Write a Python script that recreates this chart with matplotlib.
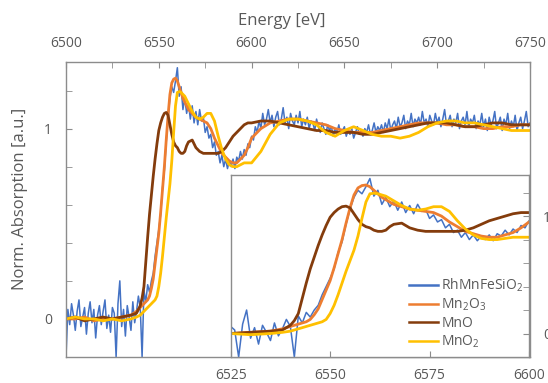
import numpy as np
import matplotlib
matplotlib.use("Agg")
import matplotlib.pyplot as plt

plt.rcParams['font.family'] = ['Open Sans', 'DejaVu Sans']
plt.rcParams['mathtext.fontset'] = 'custom'
plt.rcParams['mathtext.rm'] = 'Open Sans'
plt.rcParams['mathtext.it'] = 'Open Sans:italic'

# ---- data ----
labels = ['RhMnFeSiO$_2$', 'Mn$_2$O$_3$', 'MnO', 'MnO$_2$']
colors = ['#4472C4', '#ED7D31', '#843C0C', '#FFC000']

# sample energies, 1 eV grid
E_sample = np.arange(6500, 6751)
sample = [
    -0.20, 0.05, -0.03, 0.08, 0.02, -0.06, 0.04, 0.10, -0.04, 0.01,
    0.06, -0.08, 0.03, 0.09, -0.02, 0.05, -0.10, 0.02, 0.07, -0.03,
    0.04, 0.10, -0.05, 0.02, -0.07, 0.06, 0.03, -0.20, 0.08, 0.20,
    -0.04, 0.05, -0.09, 0.07, 0.01, -0.06, 0.09, -0.02, 0.04, 0.12,
    0.06, -0.20, 0.15, 0.09, 0.18, 0.14, 0.20, 0.24, 0.33, 0.40,
    0.47, 0.55, 0.69, 0.78, 0.93, 1.06, 1.16, 1.22, 1.19, 1.25,
    1.32, 1.17, 1.22, 1.10, 1.16, 1.08, 1.13, 1.05, 1.12, 1.03,
    1.09, 1.02, 1.10, 1.04, 1.06, 0.98, 1.01, 0.95, 0.97, 0.90,
    0.93, 0.86, 0.88, 0.82, 0.86, 0.80, 0.84, 0.79, 0.83, 0.80,
    0.84, 0.79, 0.85, 0.83, 0.88, 0.84, 0.89, 0.86, 0.92, 0.90,
    0.96, 0.94, 1.01, 0.98, 1.04, 1.00, 1.08, 1.02, 1.05, 1.10,
    1.03, 1.07, 1.01, 1.06, 1.09, 1.02, 1.05, 1.11, 1.03, 1.06,
    1.00, 1.08, 1.04, 1.02, 1.07, 1.03, 1.09, 1.01, 1.05, 1.02,
    1.06, 1.00, 1.04, 1.03, 0.99, 1.05, 1.01, 0.98, 1.03, 1.00,
    0.97, 1.02, 0.99, 1.01, 0.96, 1.00, 0.98, 1.02, 0.97, 0.99,
    1.01, 0.96, 0.99, 0.97, 1.00, 0.95, 0.98, 1.01, 0.97, 0.99,
    0.96, 1.00, 0.98, 1.02, 0.97, 0.99, 1.03, 0.98, 1.01, 0.99,
    1.02, 0.98, 1.03, 1.00, 1.05, 0.99, 1.02, 1.04, 1.00, 1.06,
    1.01, 1.03, 1.07, 1.00, 1.04, 1.02, 1.08, 1.01, 1.05, 1.03,
    1.06, 1.02, 1.09, 1.03, 1.05, 1.01, 1.07, 1.04, 1.02, 1.08,
    1.03, 1.06, 1.01, 1.05, 1.10, 1.02, 1.04, 1.07, 1.01, 1.05,
    1.03, 1.08, 1.00, 1.04, 1.06, 1.02, 1.09, 1.01, 1.05, 1.03,
    1.07, 1.00, 1.04, 1.02, 1.08, 1.01, 1.05, 0.99, 1.06, 1.02,
    1.04, 1.09, 1.00, 1.03, 1.06, 0.99, 1.05, 1.02, 1.08, 1.00,
    1.04, 1.01, 1.07, 0.99, 1.03, 1.06, 1.00, 1.04, 1.09, 1.01,
    1.03,
]

# reference energies
E_ref = np.r_[[6500, 6505, 6510, 6515, 6520, 6525, 6530, 6535, 6538],
              np.arange(6540, 6567), np.arange(6568, 6601, 2),
              np.arange(6605, 6751, 5)]

mn2o3 = [
    0.00, 0.00, 0.01, -0.01, 0.00, 0.00, 0.01, 0.02, 0.04,
    0.06, 0.07, 0.08, 0.09, 0.10, 0.12, 0.16, 0.21, 0.29, 0.37,
    0.45, 0.56, 0.68, 0.80, 0.94, 1.07, 1.18, 1.24, 1.26, 1.265,
    1.25, 1.22, 1.19, 1.16, 1.14, 1.12, 1.10,
    1.08, 1.06, 1.05, 1.04, 1.03, 1.00, 0.95, 0.91, 0.87, 0.85,
    0.83, 0.82, 0.82, 0.84, 0.86, 0.90, 0.95,
    1.00, 1.03, 1.04, 1.05, 1.05, 1.04, 1.03, 1.02, 1.00, 0.99,
    0.98, 0.98, 0.98, 0.99, 1.00, 1.01, 1.02, 1.03, 1.03, 1.03,
    1.02, 1.02, 1.01, 1.01, 1.00, 1.00, 1.01, 1.01, 1.02, 1.02,
]
mno = [
    0.00, 0.01, -0.01, 0.00, 0.01, 0.00, 0.01, 0.02, 0.03,
    0.07, 0.11, 0.17, 0.30, 0.43, 0.55, 0.65, 0.75, 0.84, 0.92,
    0.99, 1.03, 1.06, 1.08, 1.085, 1.07, 1.02, 0.97, 0.93, 0.91,
    0.90, 0.88, 0.87, 0.87, 0.88, 0.91, 0.93,
    0.94, 0.90, 0.88, 0.87, 0.87, 0.87, 0.87, 0.87, 0.88, 0.90,
    0.93, 0.96, 0.98, 1.00, 1.02, 1.03, 1.03,
    1.04, 1.04, 1.03, 1.02, 1.01, 1.00, 0.99, 0.99, 0.98, 0.98,
    0.98, 0.97, 0.97, 0.98, 0.99, 1.00, 1.01, 1.02, 1.03, 1.03,
    1.03, 1.02, 1.01, 1.01, 1.02, 1.03, 1.03, 1.02, 1.02, 1.02,
]
mno2 = [
    0.00, 0.01, 0.00, 0.00, -0.01, 0.00, -0.01, 0.00, 0.01,
    0.02, 0.03, 0.04, 0.05, 0.06, 0.07, 0.08, 0.09, 0.10, 0.12,
    0.17, 0.24, 0.33, 0.43, 0.53, 0.62, 0.71, 0.83, 0.98, 1.12,
    1.19, 1.195, 1.19, 1.18, 1.17, 1.15, 1.13,
    1.09, 1.06, 1.05, 1.06, 1.08, 1.08, 1.04, 0.96, 0.89, 0.84,
    0.81, 0.80, 0.80, 0.81, 0.82, 0.82, 0.82,
    0.88, 0.97, 1.03, 1.05, 1.05, 1.04, 1.02, 0.98, 0.96, 0.99,
    1.01, 0.99, 0.97, 0.96, 0.96, 0.95, 0.96, 0.98, 1.01, 1.03,
    1.04, 1.04, 1.03, 1.03, 1.02, 1.01, 1.00, 0.99, 0.99, 0.99,
]

xticks_main = [6500, 6550, 6600, 6650, 6700, 6750]
xticks_inset = [6525, 6550, 6575, 6600]

txt = '#595959'
edge = '#8c8c8c'

fig = plt.figure(figsize=(5.48, 3.83), dpi=100)


def draw(ax):
    series = [(E_sample, sample), (E_ref, mn2o3), (E_ref, mno), (E_ref, mno2)]
    lws = [1.1, 2.0, 2.0, 2.0]
    for (x, y), c, lab, lw in zip(series, colors, labels, lws):
        ax.plot(x, y, color=c, lw=lw, label=lab)
    ax.set_ylim(-0.2, 1.35)
    for s in ax.spines.values():
        s.set_color(edge)
        s.set_linewidth(1.0)


# main axes
ax = fig.add_axes([66/548, 1-357/383, 464/548, 295/383])
draw(ax)
ax.set_xlim(6500, 6750)
ax.xaxis.tick_top()
ax.set_xticks(xticks_main)
ax.set_xticks([6525, 6575, 6625, 6675, 6725], minor=True)
ax.set_yticks([0, 1])
ax.set_yticks([0.2, 0.4, 0.6, 0.8, 1.2], minor=True)
ax.tick_params(which='both', direction='in', length=4, color=edge,
               labelcolor=txt, labelsize=10)
ax.tick_params(axis='x', which='both', top=True, bottom=False, pad=8)
ax.tick_params(axis='y', which='both', left=True, right=False, pad=10)

fig.text(282/548, 1-21/383, 'Energy [eV]', ha='center', va='center',
         fontsize=12, color=txt)
fig.text(20/548, 1-199/383, 'Norm. Absorption [a.u.]', ha='center',
         va='center', rotation=90, fontsize=12, color=txt)

# inset
axin = fig.add_axes([230.7/548, 1-357/383, 298.3/548, 182/383])
axin.set_facecolor('white')
draw(axin)
axin.set_xlim(6525, 6600)
axin.set_xticks(xticks_inset)
axin.yaxis.tick_right()
axin.set_yticks([0, 1])
axin.set_yticks([0.2, 0.4, 0.6, 0.8, 1.2], minor=True)
axin.tick_params(which='both', direction='in', length=4, color=edge,
                 labelcolor=txt, labelsize=10)
axin.tick_params(axis='x', pad=8)
axin.tick_params(axis='y', which='both', right=True, left=False, pad=10)

leg = axin.legend(loc='lower left', bbox_to_anchor=(0.555, -0.03),
                  frameon=False, fontsize=10, handlelength=2.1,
                  handletextpad=0.25, labelspacing=0.2)
for t in leg.get_texts():
    t.set_color(txt)
for h in leg.get_lines():
    h.set_linewidth(1.8)

fig.savefig('out.png', dpi=100)
